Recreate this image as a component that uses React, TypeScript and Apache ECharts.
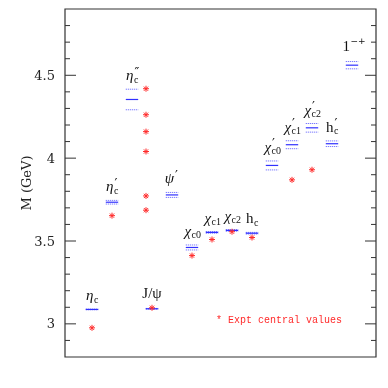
import React, { useEffect, useRef } from "react";
import * as echarts from "echarts";

// slot index of each lattice state along the horizontal axis
const slotX = [0, 1, 2, 3, 4, 5, 6, 7, 8, 9, 10, 11, 12, 13];
// lattice masses (GeV) and their errors
const latticeMass = [3.087, 3.734, 4.354, 3.091, 3.778, 3.461, 3.552, 3.564, 3.547, 3.956, 4.081, 4.183, 4.087, 4.561];
const latticeErr = [0.002, 0.011, 0.062, 0.002, 0.015, 0.015, 0.005, 0.005, 0.005, 0.027, 0.024, 0.026, 0.017, 0.022];
// label pieces
const labelMain = ["η", "η", "η", "J/ψ", "ψ", "χ", "χ", "χ", "h", "χ", "χ", "χ", "h", "1"];
const labelSub = ["c", "c", "c", "", "", "c0", "c1", "c2", "c", "c0", "c1", "c2", "c", ""];
const labelSup = ["", "′", "″", "", "′", "", "", "", "", "′", "′", "′", "′", "−+"];
const labelItalic = [1, 1, 1, 0, 1, 1, 1, 1, 0, 1, 1, 1, 0, 0];
// experimental central values
const exptX = [0, 1, 2.7, 2.7, 2.7, 2.7, 2.7, 2.7, 3, 5, 6, 7, 8, 10, 11];
const exptMass = [2.976, 3.653, 4.419, 4.262, 4.16, 4.04, 3.772, 3.686, 3.097, 3.412, 3.509, 3.556, 3.521, 3.869, 3.93];
// axis ticks
const majorTicks = [3, 3.5, 4, 4.5];
const minorTicks = [2.9, 3.1, 3.2, 3.3, 3.4, 3.6, 3.7, 3.8, 3.9, 4.1, 4.2, 4.3, 4.4, 4.6, 4.7, 4.8];

const X_MIN = -1.35;
const X_MAX = 14.2;
const BLUE = "#3030ff";
const RED = "#ff2a2a";
const AXIS = "#333";

function widthOf(s: string, per: number) {
  return s.length * per;
}

export default function App() {
  const ref = useRef<HTMLDivElement>(null);
  useEffect(() => {
    if (!ref.current) return;
    const chart = echarts.init(ref.current, null, { renderer: "svg" });
    // [x inside range, tick value, tick length]
    const tickData = [...majorTicks.map((v) => [0, v, 11]), ...minorTicks.map((v) => [0, v, 5])];
    chart.setOption({
      animation: false,
      grid: { left: 65, right: 12, top: 9, bottom: 31, show: true, borderColor: AXIS, borderWidth: 1.2, backgroundColor: "transparent" },
      xAxis: { type: "value", min: X_MIN, max: X_MAX, show: false },
      yAxis: {
        type: "value",
        min: 2.8,
        max: 4.9,
        position: "left",
        splitLine: { show: false },
        axisLine: { show: false, onZero: false },
        axisTick: { show: false },
        name: "M (GeV)",
        nameLocation: "middle",
        nameGap: 32,
        nameMoveOverlap: false,
        nameTextStyle: { fontFamily: "DejaVu Serif", fontSize: 13, color: "#222" },
        axisLabel: { show: true, customValues: majorTicks, margin: 10, fontFamily: "DejaVu Serif", fontSize: 13, color: "#222", formatter: (v: number) => String(v) },
      },
      series: [
        {
          // inward tick marks on both vertical frame sides, placed via the y scale
          type: "custom",
          silent: true,
          z: 10,
          encode: { x: 0, y: 1 },
          data: tickData,
          renderItem: (params: any, api: any) => {
            const v = api.value(1);
            const len = api.value(2);
            const pL = api.coord([X_MIN, v]);
            const pR = api.coord([X_MAX, v]);
            return {
              type: "group",
              children: [
                { type: "line", shape: { x1: pL[0], y1: pL[1], x2: pL[0] + len, y2: pL[1] }, style: { stroke: AXIS, lineWidth: 1 } },
                { type: "line", shape: { x1: pR[0] - len, y1: pR[1], x2: pR[0], y2: pR[1] }, style: { stroke: AXIS, lineWidth: 1 } },
              ],
            };
          },
        },
        {
          type: "custom",
          data: slotX.map((x, i) => [x, latticeMass[i], latticeErr[i]]),
          renderItem: (params: any, api: any) => {
            const i = params.dataIndex;
            const x = api.value(0);
            const m = api.value(1);
            const e = api.value(2);
            const half = 0.31;
            const pL = api.coord([x - half, m]);
            const pR = api.coord([x + half, m]);
            const top = api.coord([x, m + e])[1];
            const bot = api.coord([x, m - e])[1];
            const cx = (pL[0] + pR[0]) / 2;
            const children: any[] = [
              { type: "line", shape: { x1: pL[0], y1: top, x2: pR[0], y2: top }, style: { stroke: BLUE, lineWidth: 1, lineDash: [1, 1], opacity: 0.8 } },
              { type: "line", shape: { x1: pL[0], y1: bot, x2: pR[0], y2: bot }, style: { stroke: BLUE, lineWidth: 1, lineDash: [1, 1], opacity: 0.8 } },
              { type: "line", shape: { x1: pL[0], y1: pL[1], x2: pR[0], y2: pR[1] }, style: { stroke: BLUE, lineWidth: 1.2 } },
            ];
            const main = labelMain[i];
            const sub = labelSub[i];
            const sup = labelSup[i];
            const mainW = widthOf(main, main.length > 1 ? 6.5 : 8);
            const subW = widthOf(sub, 5);
            const supW = sup === "−+" ? 12 : widthOf(sup, 4);
            const total = mainW + Math.max(subW, supW);
            const anchor = cx - total / 2 + mainW;
            const y0 = top - 14 - (i === 3 ? 1.5 : 0) - (i === 13 ? 2 : 0);
            children.push({
              type: "text",
              x: anchor,
              y: y0,
              style: {
                text: main,
                fontFamily: "Liberation Serif",
                fontSize: 15,
                fontStyle: labelItalic[i] ? "italic" : "normal",
                fill: "#111",
                align: "right",
                verticalAlign: "middle",
              },
            });
            if (sub) {
              children.push({
                type: "text",
                x: anchor + 0.5,
                y: y0 + 4,
                style: { text: sub, fontFamily: "Liberation Serif", fontSize: 10, fill: "#111", align: "left", verticalAlign: "middle" },
              });
            }
            if (sup) {
              const isCharge = sup === "−+";
              children.push({
                type: "text",
                x: anchor + (isCharge ? 0.5 : 1),
                y: y0 - (isCharge ? 5 : 4),
                style: {
                  text: sup,
                  fontFamily: "DejaVu Sans",
                  fontSize: isCharge ? 9 : 13,
                  fill: "#111",
                  align: "left",
                  verticalAlign: "middle",
                },
              });
            }
            return { type: "group", children };
          },
        },
        {
          type: "custom",
          data: exptX.map((x, i) => [x, exptMass[i]]),
          renderItem: (params: any, api: any) => {
            const p = api.coord([api.value(0), api.value(1)]);
            const r = 3;
            const children: any[] = [];
            for (let k = 0; k < 4; k++) {
              const a = (k * Math.PI) / 4;
              const dx = r * Math.cos(a);
              const dy = r * Math.sin(a);
              children.push({
                type: "line",
                shape: { x1: p[0] - dx, y1: p[1] - dy, x2: p[0] + dx, y2: p[1] + dy },
                style: { stroke: RED, lineWidth: 1 },
              });
            }
            return { type: "group", children };
          },
        },
      ],
      graphic: [
        {
          type: "text",
          left: 216,
          top: 315,
          style: { text: "* Expt central values", fontFamily: "Liberation Mono", fontSize: 10, fill: RED },
        },
      ],
    });
    return () => chart.dispose();
  }, []);
  return <div ref={ref} style={{ position: "fixed", left: 0, top: 0, width: 388, height: 388 }} />;
}
